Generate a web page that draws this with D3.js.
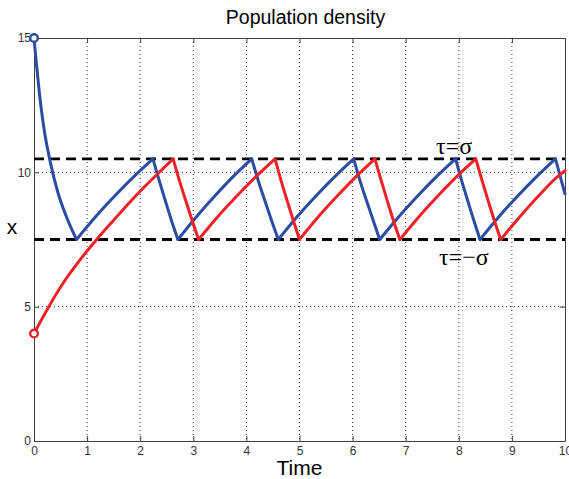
<!DOCTYPE html>
<html>
<head>
<meta charset="utf-8">
<script src="https://cdn.jsdelivr.net/npm/d3@7"></script>
<style>
  html, body { margin: 0; padding: 0; background: #fff; }
  svg { display: block; font-family: "Liberation Sans", Arial, sans-serif; }
</style>
</head>
<body>
<svg id="chart" width="569" height="479"></svg>
<script>
// ---- data ----
const xTicks = [0, 1, 2, 3, 4, 5, 6, 7, 8, 9, 10];
const yTicks = [0, 5, 10, 15];
const thresholds = [10.5, 7.5];
const thresholdLabels = ["τ=σ", "τ=−σ"];

const blueT = [0, 0.05, 0.107, 0.19, 0.31, 0.45, 0.62, 0.80,
  1.16, 1.52, 1.88, 2.24,
  2.36, 2.475, 2.59, 2.71,
  3.06, 3.405, 3.75, 4.10,
  4.225, 4.35, 4.475, 4.60,
  4.955, 5.31, 5.665, 6.02,
  6.14, 6.265, 6.39, 6.51,
  6.87, 7.225, 7.58, 7.94,
  8.055, 8.17, 8.285, 8.40,
  8.755, 9.11, 9.465, 9.82,
  9.91, 10.0];
const blueX = [15, 13.95, 12.85, 11.6, 10.35, 9.25, 8.3, 7.5,
  8.35, 9.12, 9.84, 10.5,
  9.68, 8.93, 8.2, 7.5,
  8.35, 9.12, 9.84, 10.5,
  9.68, 8.93, 8.2, 7.5,
  8.35, 9.12, 9.84, 10.5,
  9.68, 8.93, 8.2, 7.5,
  8.35, 9.12, 9.84, 10.5,
  9.68, 8.93, 8.2, 7.5,
  8.35, 9.12, 9.84, 10.5,
  9.85, 9.2];

const redT = [0, 0.27, 0.55, 0.87, 1.18, 1.5, 1.8, 2.1, 2.4, 2.62,
  2.74, 2.86, 2.98, 3.10,
  3.46, 3.82, 4.18, 4.54,
  4.655, 4.77, 4.885, 5.00,
  5.355, 5.71, 6.065, 6.42,
  6.54, 6.655, 6.77, 6.89,
  7.25, 7.605, 7.96, 8.32,
  8.44, 8.555, 8.67, 8.79,
  9.15, 9.5, 9.86, 10.0];
const redX = [4, 4.97, 5.88, 6.75, 7.5, 8.22, 8.88, 9.5, 10.08, 10.5,
  9.68, 8.93, 8.2, 7.5,
  8.35, 9.12, 9.84, 10.5,
  9.68, 8.93, 8.2, 7.5,
  8.35, 9.12, 9.84, 10.5,
  9.68, 8.93, 8.2, 7.5,
  8.35, 9.12, 9.84, 10.5,
  9.68, 8.93, 8.2, 7.5,
  8.35, 9.12, 9.84, 10.06];

// ---- layout ----
const svg = d3.select("#chart");
const L = 34, R = 565, T = 38, B = 441;
const x = d3.scaleLinear().domain([0, 10]).range([L, R]);
const y = d3.scaleLinear().domain([0, 15]).range([B, T]);

const axisColor = "#404040";

// grid (dotted)
const grid = svg.append("g");
grid.selectAll("line.gx").data(xTicks.filter(d => d > 0 && d < 10)).enter()
  .append("line").attr("x1", d => x(d)).attr("x2", d => x(d))
  .attr("y1", T).attr("y2", B)
  .attr("stroke", "#333").attr("stroke-width", 1).attr("stroke-dasharray", "1,3");
grid.selectAll("line.gy").data(yTicks.filter(d => d > 0 && d < 15)).enter()
  .append("line").attr("x1", L).attr("x2", R)
  .attr("y1", d => y(d)).attr("y2", d => y(d))
  .attr("stroke", "#333").attr("stroke-width", 1).attr("stroke-dasharray", "1,3");

// axes
function styleAxis(g, showText) {
  g.selectAll("path.domain").attr("stroke", axisColor).attr("stroke-width", 1);
  g.selectAll(".tick line").attr("stroke", axisColor);
  g.selectAll(".tick text").attr("fill", "#333").style("font-size", "12px")
    .style("font-family", "Liberation Sans, Arial, sans-serif");
  if (!showText) g.selectAll(".tick text").remove();
}
svg.append("g").attr("transform", `translate(0,${B})`)
  .call(d3.axisBottom(x).tickValues(xTicks).tickSizeInner(-5).tickSizeOuter(0).tickPadding(5))
  .call(g => styleAxis(g, true));
svg.append("g").attr("transform", `translate(0,${T})`)
  .call(d3.axisTop(x).tickValues(xTicks).tickSizeInner(-5).tickSizeOuter(0))
  .call(g => styleAxis(g, false));
svg.append("g").attr("transform", `translate(${L},0)`)
  .call(d3.axisLeft(y).tickValues(yTicks).tickSizeInner(-5).tickSizeOuter(0).tickPadding(3))
  .call(g => styleAxis(g, true));
svg.append("g").attr("transform", `translate(${R},0)`)
  .call(d3.axisRight(y).tickValues(yTicks).tickSizeInner(-5).tickSizeOuter(0))
  .call(g => styleAxis(g, false));

// threshold dashed lines
svg.selectAll("line.th").data(thresholds).enter().append("line")
  .attr("x1", L).attr("x2", R)
  .attr("y1", d => y(d)).attr("y2", d => y(d))
  .attr("stroke", "#000").attr("stroke-width", 2.8).attr("stroke-dasharray", "10,6");

// curves: split into monotone runs so corners stay sharp
function runs(ts, xs) {
  const pts = ts.map((t, i) => [t, xs[i]]);
  const out = [];
  let cur = [pts[0]];
  let dir = 0;
  for (let i = 1; i < pts.length; i++) {
    const d = Math.sign(pts[i][1] - pts[i - 1][1]);
    if (dir !== 0 && d !== dir) { out.push(cur); cur = [pts[i - 1]]; }
    dir = d;
    cur.push(pts[i]);
  }
  out.push(cur);
  return out;
}
const line = d3.line().x(d => x(d[0])).y(d => y(d[1])).curve(d3.curveMonotoneX);
const series = [
  { t: blueT, v: blueX, color: "#2b4ca3" },
  { t: redT, v: redX, color: "#ec2227" }
];
series.forEach(s => {
  const g = svg.append("g");
  const rs = runs(s.t, s.v);
  g.selectAll("path").data(rs).enter().append("path")
    .attr("d", line).attr("fill", "none").attr("stroke", s.color)
    .attr("stroke-width", 3).attr("stroke-linejoin", "round").attr("stroke-linecap", "round");
  g.append("circle").attr("cx", x(s.t[0])).attr("cy", y(s.v[0])).attr("r", 3.8)
    .attr("fill", "#fff").attr("stroke", s.color).attr("stroke-width", 2.4);
});

// threshold labels
svg.append("text").attr("x", 436).attr("y", 154)
  .style("font-family", "Liberation Serif, Times New Roman, serif").style("font-size", "24px")
  .text(thresholdLabels[0]);
svg.append("text").attr("x", 439).attr("y", 265)
  .style("font-family", "Liberation Serif, Times New Roman, serif").style("font-size", "24px")
  .text(thresholdLabels[1]);

// title & axis labels
svg.append("text").attr("x", (L + R) / 2 + 6).attr("y", 24).attr("text-anchor", "middle")
  .style("font-size", "19.5px").text("Population density");
svg.append("text").attr("x", (L + R) / 2).attr("y", 475).attr("text-anchor", "middle")
  .style("font-size", "21px").text("Time");
svg.append("text").attr("x", 12).attr("y", 234).attr("text-anchor", "middle")
  .style("font-size", "21px").text("x");
</script>
</body>
</html>
